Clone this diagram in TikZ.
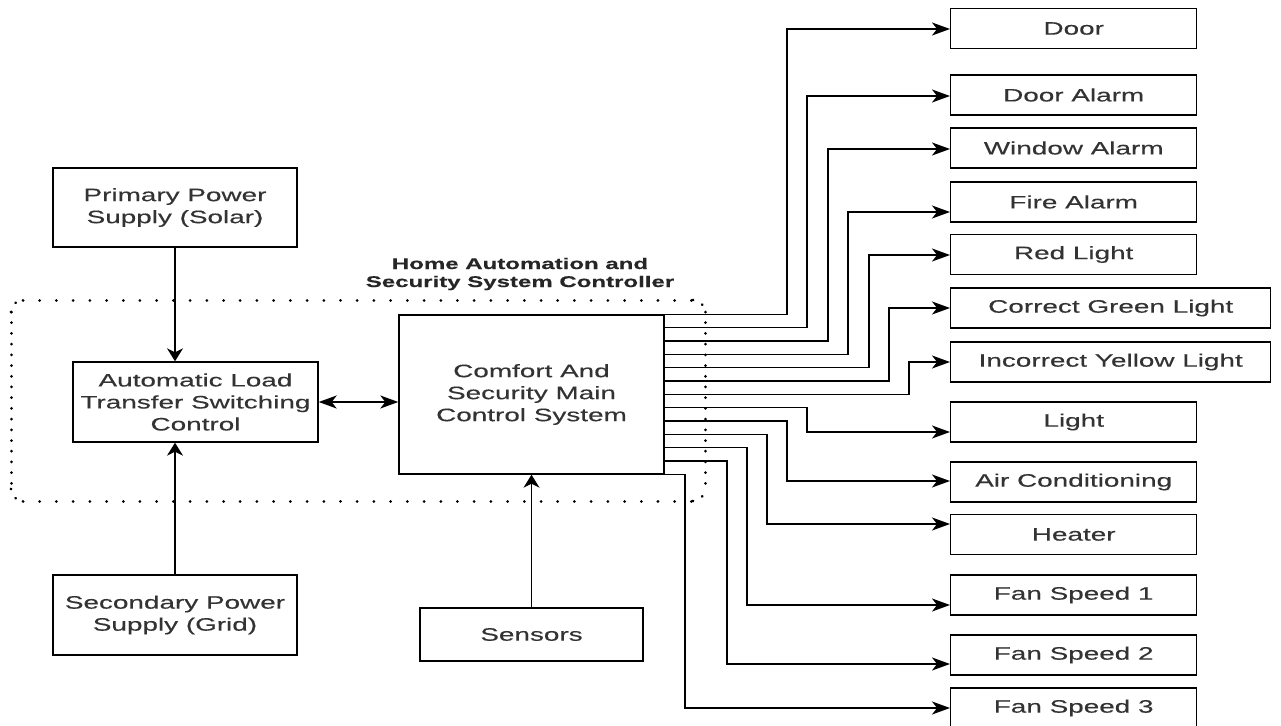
\documentclass[tikz,border=0pt]{standalone}
\usepackage{fontspec}
\setmainfont{Liberation Sans}[FakeStretch=1.55, FakeBold=0.3]
\usetikzlibrary{arrows.meta,calc}
\tikzset{
  blk/.style={draw, line width=1.4pt, inner sep=0pt, align=center,
    font=\fontsize{18}{22}\selectfont, text=black!80},
  outbox/.style={blk, minimum width=246pt, minimum height=40pt, anchor=west},
  wire/.style={line width=1.3pt},
  harr/.style={wire, -{Stealth[length=18pt,width=13pt,inset=5pt]}},
  varr/.style={wire, -{Stealth[length=13pt,width=16pt,inset=4pt]}},
  dbl/.style={wire, {Stealth[length=18pt,width=13pt,inset=5pt]}-{Stealth[length=18pt,width=13pt,inset=5pt]}},
  dotH/.style={line width=3pt, line cap=round, dash pattern=on 0.01pt off 16.7pt},
  dotV/.style={line width=3pt, line cap=round, dash pattern=on 0.01pt off 10.7pt},
}
\begin{document}
\begin{tikzpicture}[x=1pt, y=-1pt]
\useasboundingbox (0,0) rectangle (1281,725);

% container (dotted rounded rectangle)
\draw[dotH] (23,300) -- (693,300);
\draw[dotH] (23,501) -- (693,501);
\draw[dotV] (11,312) -- (11,489);
\draw[dotV] (705,312) -- (705,489);
\draw[dotV] (11,312) arc[start angle=180, end angle=270, x radius=12, y radius=12];
\draw[dotV] (693,300) arc[start angle=270, end angle=360, x radius=12, y radius=12];
\draw[dotV] (11,489) arc[start angle=180, end angle=90, x radius=12, y radius=12];
\draw[dotV] (693,501) arc[start angle=90, end angle=0, x radius=12, y radius=12];

\node[font=\bfseries\fontsize{15.5}{18}\selectfont, align=center, inner sep=0pt, text=black!85] (lbl) at (520,274) {Home Automation and\\Security System Controller};

% left / centre blocks
\node[blk, minimum width=244pt, minimum height=79pt] (prim) at (175,207.5) {Primary Power\\Supply (Solar)};
\node[blk, minimum width=245pt, minimum height=80pt] (ats) at (195.5,402) {Automatic Load\\Transfer Switching\\Control};
\node[blk, minimum width=244pt, minimum height=80pt] (sec) at (175,615) {Secondary Power\\Supply (Grid)};
\node[blk, minimum width=265pt, minimum height=159pt] (main) at (531.5,394.5) {Comfort And\\Security Main\\Control System};
\node[blk, minimum width=223pt, minimum height=53pt] (sens) at (531.5,634.5) {Sensors};

% output blocks
\node[outbox] (o1) at (950,28.5) {Door};
\node[outbox] (o2) at (950,95) {Door Alarm};
\node[outbox] (o3) at (950,148) {Window Alarm};
\node[outbox] (o4) at (950,202) {Fire Alarm};
\node[outbox] (o5) at (950,254.5) {Red Light};
\node[outbox, minimum width=320pt] (o6) at (950,308) {Correct Green Light};
\node[outbox, minimum width=320pt] (o7) at (950,362) {Incorrect Yellow Light};
\node[outbox] (o8) at (950,422) {Light};
\node[outbox] (o9) at (950,482) {Air Conditioning};
\node[outbox] (o10) at (950,534.5) {Heater};
\node[outbox] (o11) at (950,595) {Fan Speed 1};
\node[outbox] (o12) at (950,655) {Fan Speed 2};
\node[outbox] (o13) at (950,708) {Fan Speed 3};

% connectors
\draw[varr] (prim.south) -- (prim.south |- ats.north);
\draw[varr] (sec.north) -- (sec.north |- ats.south);
\draw[varr] (sens.north) -- (main.south);
\draw[dbl] (ats.east) -- (ats.east -| main.west);

\foreach \i/\vx/\ay/\t in {0/787/29/o1, 1/807/96/o2, 2/828/149/o3, 3/848/212/o4,
    4/869/255/o5, 5/889/308/o6, 6/909/362/o7, 7/807/432/o8, 8/787/481/o9,
    9/767/524/o10, 10/747/605/o11, 11/727/664/o12, 12/685/708/o13}
  \draw[harr] ($(main.north east)+(0,13.33*\i)$) -| (\vx,\ay) -- (\t.west |- \vx,\ay);
\end{tikzpicture}
\end{document}
